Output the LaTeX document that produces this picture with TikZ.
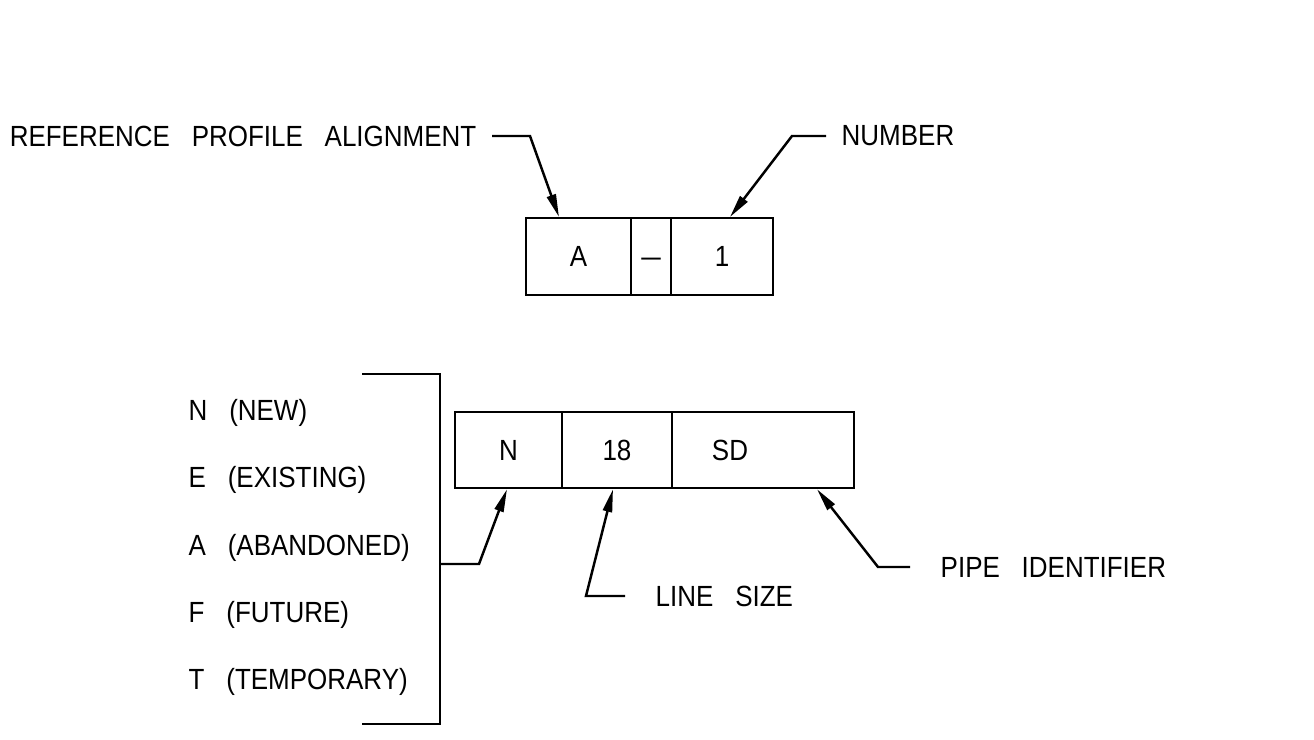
\documentclass[tikz,border=0pt]{standalone}
\usepackage{fontspec}
\setmainfont{Liberation Sans}[FakeStretch=0.89]
\usetikzlibrary{arrows.meta,positioning,calc}
\newcommand\tagfont{\fontsize{8.3}{10}\selectfont}
\newcommand\widespace{\spaceskip=6.2pt plus 0pt\relax}

\begin{document}
\begin{tikzpicture}[x=0.01cm,y=-0.01cm,
  cell/.style={draw,line width=0.7pt,minimum height=0.765cm,inner sep=0pt,font=\tagfont},
  lbl/.style={inner xsep=0.15cm,inner ysep=0pt,font=\tagfont,execute at begin node=\widespace},
  lead/.style={line width=0.7pt,-{Triangle[length=6.5pt,width=2.6pt]}},
  brk/.style={line width=0.7pt}]
  \useasboundingbox (0,0) rectangle (1314,740);
  % Alignment tag
  \node[cell,minimum width=1.05cm] (ca) at (578.5,256.5) {A};
  \node[cell,minimum width=0.40cm] (cdash) at (651,256.5) {\vphantom{A}\scalebox{1.35}[1]{--}};
  \node[cell,minimum width=1.02cm] (cone) at (722,256.5) {1};
  % Pipe tag
  \node[cell,minimum width=1.07cm,minimum height=0.76cm] (cn) at (508.5,450) {N};
  \node[cell,minimum width=1.10cm,minimum height=0.76cm] (csize) at (617,450) {18};
  \node[cell,minimum width=1.82cm,minimum height=0.76cm,text width=1.02cm,align=left] (csd) at (763,450) {SD};
  % Labels
  \node[lbl,anchor=east] (refl) at (492,136) {REFERENCE PROFILE ALIGNMENT};
  \node[lbl,anchor=west] (numl) at (826,136) {NUMBER};
  \node[lbl,anchor=west,inner xsep=0.3cm] (sizel) at (625,596) {LINE SIZE};
  \node[lbl,anchor=west,inner xsep=0.3cm] (pipel) at (910,567) {PIPE IDENTIFIER};
  \foreach \t/\i in {N (NEW)/0,E (EXISTING)/1,A (ABANDONED)/2,F (FUTURE)/3,T (TEMPORARY)/4}{
    \node[lbl,anchor=west,inner xsep=0pt] (st\i) at (188,413+\i*67.25) {\t};
  }
  % Bracket
  \draw[brk] (362,374) -- (440,374) -- (440,724) -- (362,724);
  \coordinate (bmid) at (440,564);
  % Leaders
  \draw[lead] (refl.east) -- ++(38,0) -- ([xshift=-0.195cm]ca.north);
  \draw[lead] (numl.west) -- ++(-34,0) -- ([xshift=0.08cm]cone.north);
  \draw[lead] (bmid) -- ++(39,0) -- ([xshift=-0.015cm]cn.south);
  \draw[lead] (sizel.west) -- ++(-39,0) -- ([xshift=-0.04cm]csize.south);
  \draw[lead] (pipel.west) -- ++(-32,0) -- ([xshift=0.54cm]csd.south);
\end{tikzpicture}
\end{document}
